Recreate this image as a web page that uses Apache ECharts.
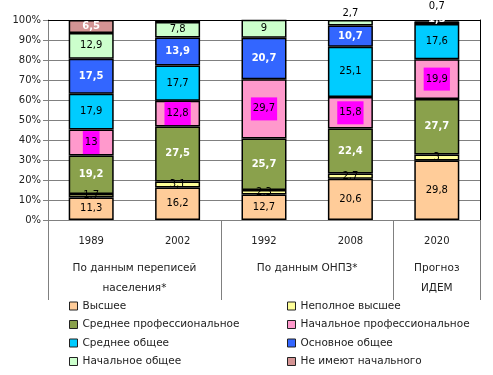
<!DOCTYPE html>
<html>
<head>
<meta charset="utf-8">
<script src="https://cdn.jsdelivr.net/npm/echarts@6/dist/echarts.min.js"></script>
<style>
  html, body { margin: 0; padding: 0; background: #fff; }
  #chart { width: 493px; height: 375px; }
</style>
</head>
<body>
<div id="chart"></div>
<script>
// years on the category axis
const categories = ["1989", "2002", "1992", "2008", "2020"];
// groups under the years, and how many years each one spans
const groupLabels = ["По данным переписей\nнаселения*", "По данным ОНПЗ*", "Прогноз\nИДЕМ"];
const groupSizes = [2, 2, 1];

// shares in %, bottom to top
const higher           = [11.3, 16.2, 12.7, 20.6, 29.8];
const incompleteHigher = [1.7, 3.1, 2.3, 2.7, 3];
const secondaryProf    = [19.2, 27.5, 25.7, 22.4, 27.7];
const primaryProf      = [13, 12.8, 29.7, 15.8, 19.9];
const secondaryGeneral = [17.9, 17.7, null, 25.1, 17.6];
const basicGeneral     = [17.5, 13.9, 20.7, 10.7, 1.3];
const primaryGeneral   = [12.9, 7.8, 9, 2.7, 0.7];
const noPrimary        = [6.5, 1.0, null, null, null];

const FONT = "DejaVu Sans";

function fmt(p) {
    return String(p.value).replace(".", ",");
}

// label tweaks for the tiny segments at the top
function withLabels(values, overrides) {
    return values.map(function (v, i) {
        if (overrides && overrides[i]) {
            return {value: v, label: overrides[i]};
        }
        return v;
    });
}

function makeSeries(name, color, data, labelStyle) {
    return {
        name: name,
        type: "bar",
        stack: "total",
        barWidth: 45,
        data: data,
        itemStyle: {color: color, borderColor: "#000", borderWidth: 1.5},
        label: Object.assign({
            show: true,
            position: "inside",
            formatter: fmt,
            fontFamily: FONT,
            fontSize: 10,
            color: "#000"
        }, labelStyle || {})
    };
}

const whiteBold = {color: "#fff", fontWeight: "bold"};

// group boundaries and centers on a 0..5 scale
const groupBounds = [0];
const groupCenters = [];
groupSizes.forEach(function (s) {
    const start = groupBounds[groupBounds.length - 1];
    groupCenters.push(start + s / 2);
    groupBounds.push(start + s);
});

const series = [
    makeSeries("Высшее", "#FFCC99", higher),
    makeSeries("Неполное высшее", "#FFFF99", incompleteHigher),
    makeSeries("Среднее профессиональное", "#8AA14C", secondaryProf, whiteBold),
    makeSeries("Начальное профессиональное", "#FF99CC", primaryProf,
        {backgroundColor: "#FF00FF", padding: [7, 2, 6, 2]}),
    makeSeries("Среднее общее", "#00CCFF", secondaryGeneral),
    makeSeries("Основное общее", "#3366FF",
        withLabels(basicGeneral, {4: {offset: [0, -3]}}), whiteBold),
    makeSeries("Начальное общее", "#CCFFCC",
        withLabels(primaryGeneral, {3: {position: "top", distance: 2}, 4: {position: "top", distance: 9}})),
    makeSeries("Не имеют начального", "#D49494",
        withLabels(noPrimary, {1: {show: false}}), whiteBold)
];

const legendText = {fontFamily: FONT, fontSize: 10.5, color: "#222", lineHeight: 12};
const legendCommon = {
    orient: "vertical",
    top: 295,
    height: 90,
    itemWidth: 8,
    itemHeight: 8,
    itemGap: 6.5,
    icon: "rect",
    itemStyle: {borderColor: "#222", borderWidth: 1},
    textStyle: legendText,
    selectedMode: false
};

const chart = echarts.init(document.getElementById("chart"), null, {renderer: "canvas"});

chart.setOption({
    animation: false,
    grid: {left: 48, right: 13, top: 20, bottom: 155},
    legend: [
        Object.assign({left: 64, data: ["Высшее", "Среднее профессиональное", "Среднее общее", "Начальное общее"]}, legendCommon),
        Object.assign({left: 282, data: ["Неполное высшее", "Начальное профессиональное", "Основное общее", "Не имеют начального"]}, legendCommon)
    ],
    xAxis: [
        {
            type: "category",
            data: categories,
            axisLine: {lineStyle: {color: "#808080", width: 1}},
            axisTick: {length: 28, lineStyle: {color: "#808080"}},
            axisLabel: {fontFamily: FONT, fontSize: 10, color: "#222", margin: 16}
        },
        {
            type: "value",
            min: 0,
            max: 5,
            position: "bottom",
            axisLine: {show: false},
            splitLine: {show: false},
            axisTick: {show: true, customValues: groupBounds, length: 80, lineStyle: {color: "#808080"}},
            axisLabel: {
                customValues: groupCenters,
                fontFamily: FONT, fontSize: 10.5, color: "#222",
                lineHeight: 20, margin: 38,
                formatter: function (v) {
                    const i = groupCenters.indexOf(v);
                    return i >= 0 ? groupLabels[i] : "";
                }
            }
        },
        {
            // black frame line on top of the plot
            type: "category",
            data: categories,
            position: "top",
            axisLine: {show: true, lineStyle: {color: "#000", width: 1}},
            axisTick: {show: false},
            axisLabel: {show: false}
        }
    ],
    yAxis: [
        {
            type: "value",
            min: 0,
            max: 100,
            interval: 10,
            axisLine: {show: true, lineStyle: {color: "#808080"}},
            axisTick: {show: true, length: 5, lineStyle: {color: "#808080"}},
            splitLine: {lineStyle: {color: "#808080", width: 1}},
            axisLabel: {formatter: "{value}%", fontFamily: FONT, fontSize: 10, color: "#222", margin: 7}
        },
        {
            // black frame line on the right of the plot
            type: "value",
            min: 0,
            max: 100,
            position: "right",
            axisLine: {show: true, lineStyle: {color: "#000", width: 1}},
            axisTick: {show: false},
            axisLabel: {show: false},
            splitLine: {show: false}
        }
    ],
    series: series
});
</script>
</body>
</html>
